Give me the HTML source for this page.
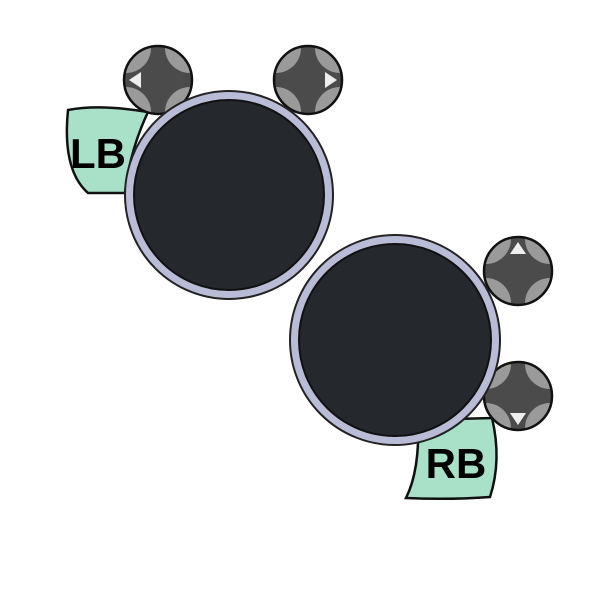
<!DOCTYPE html>
<html><head><meta charset="utf-8"><style>
html,body{margin:0;padding:0;background:#fff;width:590px;height:590px;overflow:hidden}
svg{display:block}
text{font-family:"Liberation Sans",sans-serif;font-weight:bold}
</style></head><body>
<svg width="590" height="590" viewBox="0 0 590 590">
<defs>
<clipPath id="c1"><circle cx="0" cy="0" r="33"/></clipPath>
<g id="dpad">
<circle r="34" fill="#4b4b4b"/>
<g clip-path="url(#c1)" fill="#9a9a9a">
<circle cx="-32" cy="-32" r="25"/><circle cx="32" cy="-32" r="25"/>
<circle cx="-32" cy="32" r="25"/><circle cx="32" cy="32" r="25"/>
</g>
<circle r="34" fill="none" stroke="#111" stroke-width="2.5"/>
</g>
</defs>
<path d="M68,110 Q100,104 148,112 Q130,150 125,193 L88,193 Q62,170 68,110 Z" fill="#a8e0c8" stroke="#111" stroke-width="2.5"/>
<text x="98" y="168" font-size="42" text-anchor="middle" fill="#000">LB</text>
<path d="M418,420 L492,418 Q502,460 490,497 Q450,500 406,498 Q420,470 418,420 Z" fill="#a8e0c8" stroke="#111" stroke-width="2.5"/>
<text x="456" y="478" font-size="42" text-anchor="middle" fill="#000">RB</text>
<g transform="translate(158,80)"><use href="#dpad"/><path d="M-29,0 L-17,-8 L-17,8 Z" fill="#eee"/></g>
<g transform="translate(308,80)"><use href="#dpad"/><path d="M29,0 L17,-8 L17,8 Z" fill="#eee"/></g>
<g transform="translate(518,271)"><use href="#dpad"/><path d="M0,-29 L-8,-17 L8,-17 Z" fill="#eee"/></g>
<g transform="translate(518,396)"><use href="#dpad"/><path d="M0,29 L-8,17 L8,17 Z" fill="#eee"/></g>
<g>
<circle cx="229" cy="195" r="104" fill="#b9bcd6" stroke="#222" stroke-width="2"/>
<circle cx="229" cy="195" r="95" fill="#25282d" stroke="#111" stroke-width="2"/>
</g>
<g>
<circle cx="395" cy="340" r="105" fill="#b9bcd6" stroke="#222" stroke-width="2"/>
<circle cx="395" cy="340" r="96" fill="#25282d" stroke="#111" stroke-width="2"/>
</g>
</svg>
</body></html>
